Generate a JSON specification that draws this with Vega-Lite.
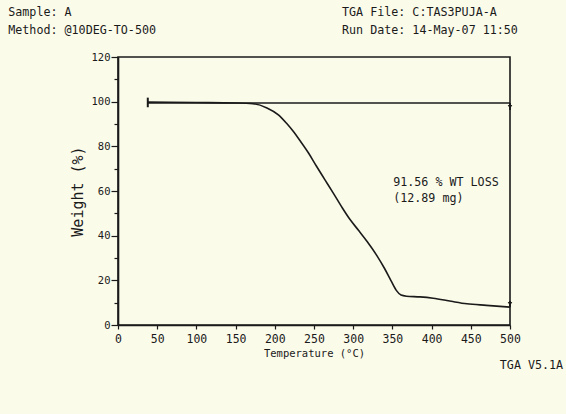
{
  "$schema": "https://vega.github.io/schema/vega-lite/v6.json",
  "width": 392,
  "height": 268,
  "autosize": {"type": "none"},
  "padding": {"left": 118, "top": 57, "right": 56, "bottom": 89},
  "background": "#fbfbea",
  "config": {
    "font": "DejaVu Sans Mono",
    "view": {"stroke": "#1a1a1a", "strokeWidth": 1.6}
  },
  "datasets": {
    "curve": [
      {"T": 38, "W": 99.8}, {"T": 100, "W": 99.6}, {"T": 150, "W": 99.4},
      {"T": 172, "W": 99.1}, {"T": 190, "W": 97.2}, {"T": 205, "W": 94.0},
      {"T": 215, "W": 90.3}, {"T": 224, "W": 86.5}, {"T": 232, "W": 82.6},
      {"T": 243, "W": 77.0}, {"T": 253, "W": 71.2}, {"T": 264, "W": 65.0},
      {"T": 275, "W": 58.8}, {"T": 286, "W": 52.5}, {"T": 296, "W": 47.2},
      {"T": 307, "W": 42.3}, {"T": 318, "W": 37.3}, {"T": 330, "W": 31.2},
      {"T": 340, "W": 25.3}, {"T": 348, "W": 20.0}, {"T": 355, "W": 15.5},
      {"T": 361, "W": 13.4}, {"T": 368, "W": 12.9}, {"T": 385, "W": 12.6},
      {"T": 402, "W": 12.0}, {"T": 425, "W": 10.6}, {"T": 445, "W": 9.5},
      {"T": 470, "W": 8.8}, {"T": 500, "W": 8.0}
    ],
    "baseline": [{"T": 38, "T2": 500, "W": 99.4}],
    "markers": [
      {"T": 38, "W": 97.5, "W2": 101.8},
      {"T": 500, "W": 96.3, "W2": 99.4},
      {"T": 500, "W": 8.0, "W2": 10.8}
    ],
    "arrows": [
      {"T": 500, "W": 97.6},
      {"T": 500, "W": 9.4}
    ],
    "labels": [
      {"T": -140, "W": 140.2, "label": "Sample: A"},
      {"T": -140, "W": 132.1, "label": "Method: @10DEG-TO-500"},
      {"T": 285.7, "W": 140.2, "label": "TGA File: C:TAS3PUJA-A"},
      {"T": 285.7, "W": 132.1, "label": "Run Date: 14-May-07 11:50"},
      {"T": 351, "W": 64.2, "label": "91.56 % WT LOSS"},
      {"T": 351, "W": 57.0, "label": "(12.89 mg)"},
      {"T": 487, "W": -18.0, "label": "TGA V5.1A"}
    ]
  },
  "encoding": {
    "x": {
      "field": "T", "type": "quantitative",
      "scale": {"domain": [0, 500], "nice": false},
      "axis": {
        "title": "Temperature (°C)",
        "values": [0, 50, 100, 150, 200, 250, 300, 350, 400, 450, 500],
        "labelOverlap": false,
        "grid": false,
        "domainColor": "#1a1a1a", "domainWidth": 1.6,
        "tickColor": "#1a1a1a", "tickSize": 4, "tickWidth": 1.2,
        "labelFontSize": 11.5, "labelColor": "#1a1a1a", "labelPadding": 4,
        "labelFlush": false,
        "titleFontSize": 10.5, "titleFontWeight": "normal", "titleColor": "#1a1a1a",
        "titlePadding": 4
      }
    },
    "y": {
      "field": "W", "type": "quantitative",
      "scale": {"domain": [0, 120], "nice": false},
      "axis": {
        "title": "Weight (%)",
        "values": [0, 10, 20, 30, 40, 50, 60, 70, 80, 90, 100, 110, 120],
        "labelExpr": "datum.value % 20 === 0 ? datum.label : ''",
        "labelOverlap": false,
        "grid": false,
        "domainColor": "#1a1a1a", "domainWidth": 1.6,
        "tickColor": "#1a1a1a", "tickWidth": 1.2,
        "tickSize": {"condition": {"test": "datum.value % 20 === 0", "value": 7}, "value": 4},
        "labelFontSize": 10.5, "labelColor": "#1a1a1a", "labelPadding": 1,
        "labelFlush": false,
        "titleFontSize": 15, "titleFontWeight": "normal", "titleColor": "#1a1a1a",
        "titlePadding": 6
      }
    }
  },
  "layer": [
    {
      "data": {"name": "curve"},
      "mark": {"type": "line", "color": "#1a1a1a", "strokeWidth": 1.6, "interpolate": "monotone"}
    },
    {
      "data": {"name": "baseline"},
      "mark": {"type": "rule", "color": "#1a1a1a", "strokeWidth": 1.6},
      "encoding": {
        "x2": {"field": "T2"}
      }
    },
    {
      "data": {"name": "markers"},
      "mark": {"type": "rule", "color": "#1a1a1a", "strokeWidth": 2},
      "encoding": {
        "y2": {"field": "W2"}
      }
    },
    {
      "data": {"name": "arrows"},
      "mark": {"type": "point", "shape": "triangle-down", "filled": true, "color": "#1a1a1a", "size": 20, "opacity": 1}
    },
    {
      "data": {"name": "labels"},
      "mark": {"type": "text", "align": "left", "baseline": "middle", "fontSize": 11.7, "color": "#1a1a1a"},
      "encoding": {
        "text": {"field": "label"}
      }
    }
  ]
}
